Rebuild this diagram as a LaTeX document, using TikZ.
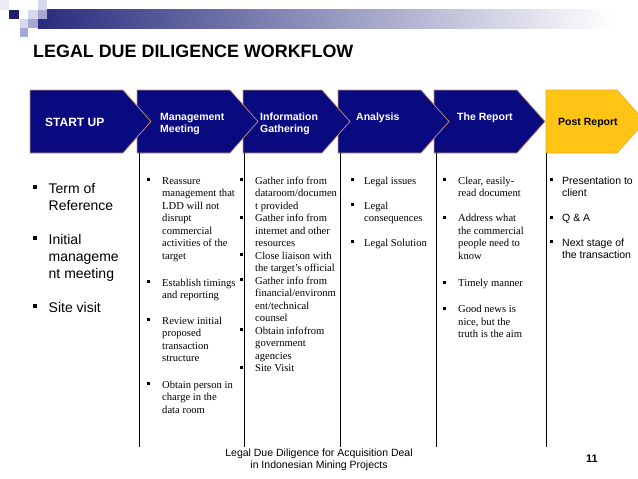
\documentclass[tikz,border=0pt]{standalone}
\usepackage{fontspec}
\setmainfont{Liberation Serif}
\setsansfont{Liberation Sans}
\definecolor{chevnavy}{RGB}{10,10,128}
\definecolor{chevborder}{RGB}{200,150,110}
\definecolor{postfill}{RGB}{255,196,20}
\definecolor{postborder}{RGB}{235,170,40}
\definecolor{hdrnavy}{RGB}{40,44,125}
\definecolor{lavlight}{RGB}{215,217,238}
\definecolor{lavmed}{RGB}{165,168,210}
\definecolor{lavvlight}{RGB}{236,237,247}
\definecolor{navysq}{RGB}{30,30,110}
\newcommand\tl[1]{\begin{tabular}[t]{@{}l@{}}#1\end{tabular}}
\newcommand\tc[1]{\begin{tabular}[t]{@{}c@{}}#1\end{tabular}}
\newcommand\bsq[1]{\llap{\rule[3pt]{2.8pt}{2.8pt}\hspace{#1pt}}}
\newcommand\bsqL{\llap{\rule[4pt]{4pt}{4pt}\hspace{11.5pt}}}
\begin{document}
\begin{tikzpicture}[x=1pt,y=-1pt,
  chev/.style={draw=chevborder, line width=0.7pt, fill=chevnavy, line join=miter},
  postchev/.style={draw=postborder, line width=0.7pt, fill=postfill},
  clbl/.style={font=\sffamily\bfseries\fontsize{10.5}{12.5}\selectfont, text=white, anchor=base west, inner sep=0pt},
  vline/.style={draw=black, line width=0.8pt},
  titem/.style={font=\rmfamily\fontsize{10.6}{12.5}\selectfont, anchor=base west, inner sep=0pt},
  pitem/.style={font=\sffamily\fontsize{10.5}{12.5}\selectfont, anchor=base west, inner sep=0pt},
  sitem/.style={font=\sffamily\fontsize{14}{17}\selectfont, anchor=base west, inner sep=0pt}]
\useasboundingbox (0,0) rectangle (638,479);
% header decoration
\fill[lavvlight] (0,0) rectangle (9.3,9.5);
\shade[left color=hdrnavy, right color=white] (38,9.5) rectangle (612,28);
\fill[navysq] (9.3,10) rectangle (18.6,18.6);
\fill[lavlight] (28,10) rectangle (38,18.6);
\fill[lavlight] (38,0) rectangle (47,9.5);
\fill[lavmed] (38,9.5) rectangle (47,18.6);
\fill[lavlight] (20,18.6) rectangle (28,28);
\fill[lavmed] (28,18.6) rectangle (38,28);
\fill[lavmed] (20,28) rectangle (28,37);
% title
\node[anchor=base west, inner sep=0pt, font=\sffamily\bfseries\fontsize{17.9}{20}\selectfont] (title) at (33,57) {LEGAL DUE DILIGENCE WORKFLOW};
% chevrons (drawn right to left so each tip overlays the next)
\draw[postchev] (546,90) -- (617,90) -- (645,121.5) -- (617,153) -- (546,153) -- cycle;
\draw[chev] (434,90) -- (517,90) -- (545,121.5) -- (517,153) -- (434,153) -- cycle;
\draw[chev] (338,90) -- (421,90) -- (449,121.5) -- (421,153) -- (338,153) -- cycle;
\draw[chev] (243,90) -- (322,90) -- (350,121.5) -- (322,153) -- (243,153) -- cycle;
\draw[chev] (137,90) -- (230,90) -- (258,121.5) -- (230,153) -- (137,153) -- cycle;
\draw[chev] (30,90) -- (123,90) -- (151,121.5) -- (123,153) -- (30,153) -- cycle;
% chevron labels
\node[clbl, font=\sffamily\bfseries\fontsize{12}{14}\selectfont] (su) at (45,126) {START UP};
\node[clbl] (mm) at (160,120) {\tl{Management\\Meeting}};
\node[clbl] (ig) at (260,120) {\tl{Information\\Gathering}};
\node[clbl] (an) at (356,120) {Analysis};
\node[clbl] (tr) at (457,120) {The Report};
\node[clbl, text=black] (pr) at (558,125) {Post Report};
% column separators
\foreach \xx in {139,244,340,436,546} \draw[vline] (\xx,153) -- (\xx,447);
% START UP column
\node[sitem] (s1) at (48.5,193) {\tl{\bsqL Term of\\Reference}};
\node[sitem] (s2) at (48.5,244) {\tl{\bsqL Initial\\manageme\\nt meeting}};
\node[sitem] (s3) at (48.5,312) {\tl{\bsqL Site visit}};
% Management Meeting column
\node[titem] (m1) at (162,184) {\tl{\bsq{12.2}Reassure\\management that\\LDD will not\\disrupt\\commercial\\activities of the\\target}};
\node[titem] (m2) at (162,286) {\tl{\bsq{12.2}Establish timings\\and reporting}};
\node[titem] (m3) at (162,324) {\tl{\bsq{12.2}Review initial\\proposed\\transaction\\structure}};
\node[titem] (m4) at (162,388) {\tl{\bsq{12.2}Obtain person in\\charge in the\\data room}};
% Information Gathering column
\node[titem] (i1) at (255,184) {\tl{\bsq{12.2}Gather info from\\dataroom/documen\\t provided}};
\node[titem] (i2) at (255,221.5) {\tl{\bsq{12.2}Gather info from\\internet and other\\resources}};
\node[titem] (i3) at (255,259) {\tl{\bsq{12.2}Close liaison with\\the target’s official}};
\node[titem] (i4) at (255,284) {\tl{\bsq{12.2}Gather info from\\financial/environm\\ent/technical\\counsel}};
\node[titem] (i5) at (255,334) {\tl{\bsq{12.2}Obtain infofrom\\government\\agencies}};
\node[titem] (i6) at (255,371.5) {\tl{\bsq{12.2}Site Visit}};
% Analysis column
\node[titem] (a1) at (364,184) {\tl{\bsq{10.2}Legal issues}};
\node[titem] (a2) at (364,209) {\tl{\bsq{10.2}Legal\\consequences}};
\node[titem] (a3) at (364,246) {\tl{\bsq{10.2}Legal Solution}};
% The Report column
\node[titem] (r1) at (458,184) {\tl{\bsq{12.2}Clear, easily-\\read document}};
\node[titem] (r2) at (458,221.5) {\tl{\bsq{12.2}Address what\\the commercial\\people need to\\know}};
\node[titem] (r3) at (458,286.5) {\tl{\bsq{12.2}Timely manner}};
\node[titem] (r4) at (458,312.5) {\tl{\bsq{12.2}Good news is\\nice, but the\\truth is the aim}};
% Post Report column
\node[pitem] (p1) at (562,184) {\tl{\bsq{9.2}Presentation to\\client}};
\node[pitem] (p2) at (562,221.5) {\tl{\bsq{9.2}Q \& A}};
\node[pitem] (p3) at (562,246) {\tl{\bsq{9.2}Next stage of\\the transaction}};
% footer
\node[anchor=base, inner sep=0pt, font=\sffamily\fontsize{10.5}{12}\selectfont] (foot) at (319,456) {\tc{Legal Due Diligence for Acquisition Deal\\in Indonesian Mining Projects}};
\node[anchor=base, inner sep=0pt, font=\sffamily\bfseries\fontsize{11}{12}\selectfont] (pg) at (592,462) {11};
\end{tikzpicture}
\end{document}
